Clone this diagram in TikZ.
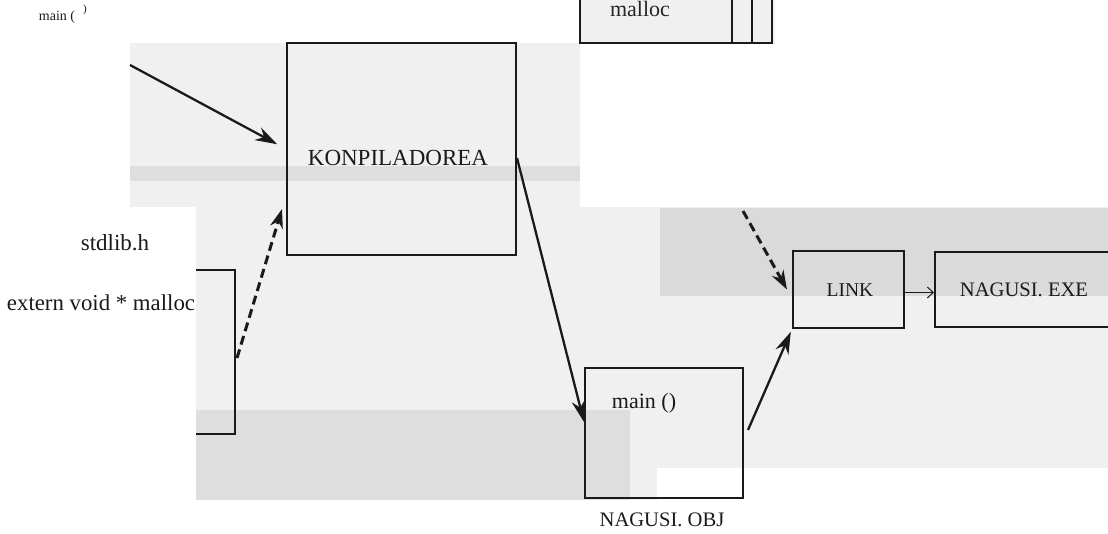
\documentclass[tikz,border=0pt]{standalone}
\usepackage{fontspec}
\setmainfont{Liberation Serif}
\usetikzlibrary{arrows.meta}
\definecolor{paper}{HTML}{F0F0F0}
\definecolor{paperdark}{HTML}{DEDEDE}
\definecolor{paperband}{HTML}{DADADA}
\definecolor{ink}{HTML}{1A1A1A}
\begin{document}
\begin{tikzpicture}[x=1pt,y=-1pt,
  box/.style={draw=ink, line width=2pt, inner sep=0pt},
  lbl/.style={inner sep=0pt, text=ink},
  flow/.style={draw=ink, line width=2.3pt, -{Stealth[length=22pt,width=14pt]}},
  dashflow/.style={draw=ink, line width=3pt, dash pattern=on 9pt off 5pt,
    -{Stealth[length=19pt,width=13pt]}},
  thinflow/.style={draw=ink, line width=1pt, -{Straight Barb[length=6pt,width=11pt]}},
  fs/.style={font=\fontsize{#1}{#1}\selectfont}
]
\useasboundingbox (0,0) rectangle (1108,533);
\clip (0,0) rectangle (1108,533);

% scanned page patches behind the diagram
\fill[paper] (580,0) rectangle (775,43);
\fill[paper] (130,43) rectangle (580,207);
\fill[paperdark] (130,166) rectangle (580,181);
\foreach \cx in {408,473,543} \fill[black!6] (\cx,82) circle (26);
\fill[paper] (196,207) rectangle (657,500);
\fill[paperdark] (196,410) rectangle (630,500);
\fill[paper] (657,207) rectangle (1108,468);
\fill[paperband] (660,208) rectangle (1108,296);

% boxes
\node[box, minimum width=229, minimum height=212] (konp) at (401.5,149) {};
\node[box, minimum width=192, minimum height=60] (mallocbox) at (676,13) {};
\draw[ink, line width=2pt] (732,-20) -- (732,43) (752,-20) -- (752,43);
\node[box, minimum width=158, minimum height=130] (mainbox) at (664,433) {};
\node[box, minimum width=111, minimum height=77] (link) at (848.5,289.5) {};
\node[box, minimum width=200, minimum height=75] (exe) at (1035,289.5) {};

% header box cut at the patch edge
\coordinate (hdrTop) at (196,270);
\coordinate (hdrBot) at (196,434);
\draw[ink, line width=2pt] (hdrTop) -- (235,270) -- (235,434) -- (hdrBot);
\coordinate (hdrOut) at (237,358);

% labels
\node[lbl, fs=14] (mainsrc) at (57,17) {main (};
\node[lbl, fs=11] (mainclose) at (85,10) {)};
\node[lbl, fs=23] (konptxt) at (398,158) {KONPILADOREA};
\node[lbl, fs=22, text=black!85] (malloctxt) at (640,9) {malloc};
\node[lbl, fs=23] (stdlib) at (115,243) {stdlib.h};
\node[lbl, fs=22.8] (extern) at (101,303) {extern void * malloc};
\node[lbl, fs=22] (maintxt) at (644,403) {main ()};
\node[lbl, fs=20.6] (objtxt) at (662,520) {NAGUSI. OBJ};
\node[lbl, fs=19.5] (linktxt) at (850,290) {LINK};
\node[lbl, fs=20.6] (exetxt) at (1024,290) {NAGUSI. EXE};

% connectors
\coordinate (srcA) at (130,65);
\draw[flow, shorten >=10pt] (srcA) -- (konp.west);
\draw[flow] ([yshift=-9pt]konp.east) -- ([yshift=11pt]mainbox.west);
\draw[flow, shorten >=3pt] ([xshift=4pt,yshift=3pt]mainbox.east) -- (link.south west);
\coordinate (mallocOut) at (743,211);
\draw[dashflow] (mallocOut) -- ([xshift=-5pt]link.west);
\draw[dashflow] (hdrOut) -- ([xshift=-4pt,yshift=47pt]konp.south west);
\draw[thinflow] ([yshift=-3pt]link.east) -- ([yshift=-3pt]exe.west);
\end{tikzpicture}
\end{document}
